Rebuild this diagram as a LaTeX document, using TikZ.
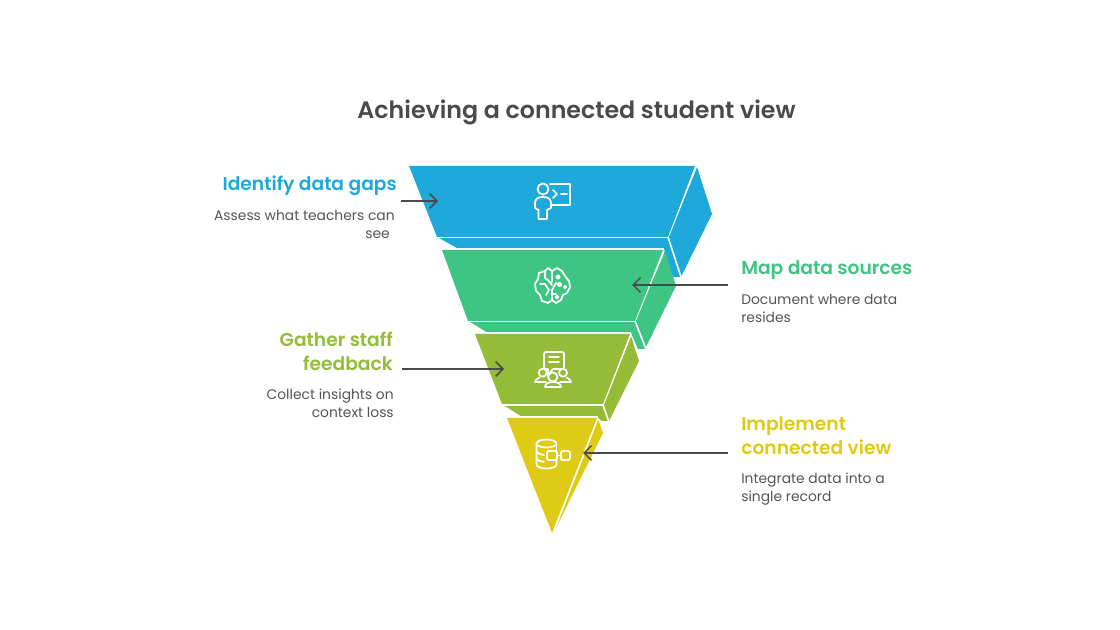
\documentclass[tikz,border=0pt]{standalone}
\usepackage{fontspec}
\setmainfont{Poppins}[BoldFont={Poppins SemiBold}]
\usetikzlibrary{arrows.meta}
\definecolor{cblue}{HTML}{1FA9DA}
\definecolor{cgreen}{HTML}{3FC583}
\definecolor{colive}{HTML}{94BC39}
\definecolor{cyellow}{HTML}{DFCB15}
\definecolor{cgray}{HTML}{4A4A4A}
\definecolor{cbody}{HTML}{555555}
\tikzset{
  edge/.style={draw=white,line width=1.2pt,line join=round},
  icon/.style={draw=white,line width=1.3pt,line join=round,line cap=round},
  conn/.style={draw=cgray,line width=1.15pt,-{Straight Barb[length=5.5pt,width=11pt,line width=1.15pt]}},
  title/.style={font=\fontsize{17.8pt}{22pt}\selectfont\bfseries,text=cgray,inner sep=0},
  head/.style={font=\fontsize{14pt}{18pt}\selectfont\bfseries,inner sep=0},
  bodyr/.style={font=\fontsize{10.4pt}{13.5pt}\selectfont,text=cbody,inner sep=0,align=right},
  bodyl/.style={font=\fontsize{10.4pt}{13.5pt}\selectfont,text=cbody,inner sep=0,align=left},
}
\begin{document}
\begin{tikzpicture}[x=0.75pt,y=-0.75pt]
\useasboundingbox (0,0) rectangle (1120,630);
\fill[white] (0,0) rectangle (1120,630);
% blue layer
\fill[cblue] (697,167) -- (712,214) -- (681,277) -- (673,277) -- (663,249) -- (457,248) -- (439,238) -- (668,238) -- cycle;
\draw[edge] (696,167) -- (668,237) -- (681,277);
\draw[edge] (437,237.5) -- (668,237.5);
\fill[cblue] (409,166) -- (695,166) -- (668,237) -- (437,237) -- cycle;
% green layer
\fill[cgreen] (665,251) -- (676,286) -- (645,349) -- (638,349) -- (631,333) -- (488,333) -- (470,322) -- (635,322) -- cycle;
\draw[edge] (664,250) -- (635,321) -- (646,349);
\draw[edge] (468,321.5) -- (635,321.5);
\draw[edge] (442,249.2) -- (664,249.2);
\fill[cgreen] (442,250) -- (663,250) -- (635,321) -- (468,321) -- cycle;
% olive layer
\fill[colive] (631,336) -- (639,361) -- (609,421) -- (602,421) -- (597,417) -- (522,417) -- (505,406) -- (603,406) -- cycle;
\draw[edge] (631,334) -- (603,405) -- (609,422);
\draw[edge] (502,405) -- (603,405);
\draw[edge] (475,333.2) -- (631,333.2);
\fill[colive] (475,334) -- (630,334) -- (603,404) -- (502,404) -- cycle;
% yellow layer
\fill[cyellow] (598,419) -- (603,433) -- (556,528) -- cycle;
\draw[edge] (598,418) -- (554,530);
\draw[edge] (507,417.2) -- (598,417.2);
\fill[cyellow] (507,418) -- (597,418) -- (552,533) -- cycle;
% icon 1: teacher
\draw[icon] (543,189) circle (5.5);
\draw[icon] (550,184) -- (570,184) -- (570,205) -- (552,205);
\draw[icon] (553,190) -- (557,194) -- (553,198);
\draw[icon] (561,194) -- (567,194);
\draw[icon] (538.5,219) -- (547,219) -- (547,210) -- (551,208) -- (551,203) .. controls (551,199) and (548,197) .. (543,197) .. controls (538,197) and (535,199) .. (535,203) -- (535,208) -- (538.5,210) -- cycle;
% icon 2: brain
\draw[icon] (552,271) -- (557,268) -- (562,271) -- (565,276) -- (569,281) -- (570,287) -- (567,293) -- (563,295) -- (561,300) -- (556,303) -- (552,300) -- (548,303) -- (542,301) -- (540,295) -- (536,291) -- (535,284) -- (538,279) -- (539,273) -- (545,271) -- (548,268) -- cycle;
\draw[icon] (552,271) -- (552,282) (552,290) -- (552,300);
\draw[icon] (545,271) -- (545,278) -- (549,281) -- (552,285);
\draw[icon] (540,284) -- (545,284) -- (549,290) -- (546,295);
\draw[icon] (552,290) -- (556,283) -- (558,284);
\draw[icon] (552,294) -- (556,294);
\draw[icon] (558,277) circle (1.8);
\draw[icon] (559.5,284.5) circle (1.8);
\draw[icon] (565,287) circle (1.2);
\draw[icon] (557,297) circle (1.5);
% icon 3: team and speech
\draw[icon] (546,352) -- (562,352) .. controls (563.5,352) and (564,353) .. (564,354) -- (564,367) .. controls (564,368.5) and (563,369) .. (562,369) -- (553,369) -- (548,375) -- (548,369) -- (546,369) .. controls (545,369) and (544,368.5) .. (544,367) -- (544,354) .. controls (544,353) and (545,352) .. cycle;
\draw[icon] (549,357) -- (559,357);
\draw[icon] (549,362) -- (559,362);
\draw[icon] (542.7,372.7) circle (4);
\draw[icon] (563,372.7) circle (4);
\draw[icon] (552.8,377) circle (4.6);
\draw[icon] (546,382) -- (535,382) .. controls (535.5,380) and (537,378.5) .. (539.5,377.5);
\draw[icon] (560,382) -- (571,382) .. controls (570.5,380) and (569,378.5) .. (566.5,377.5);
\draw[icon] (545,387) .. controls (545,384) and (548,382) .. (553,382) .. controls (558,382) and (561,384) .. (561,387) -- cycle;
% icon 4: database
\draw[icon] (546.5,443.5) ellipse (10 and 4);
\draw[icon] (536.5,443.5) -- (536.5,464) .. controls (536.5,467) and (541,468.5) .. (546.5,468.5) .. controls (551,468.5) and (555,467.5) .. (556.5,465) -- (556.5,460);
\draw[icon] (556.5,443.5) -- (556.5,451);
\draw[icon] (536.5,451) .. controls (537,453) and (540,454.5) .. (544,455);
\draw[icon] (536.5,458) .. controls (537,460) and (540,461.5) .. (544,462);
\draw[icon,rounded corners=1pt] (547,451) rectangle (557,460);
\draw[icon,rounded corners=1pt] (561,451) rectangle (570,460);
\draw[icon] (557,455.5) -- (561,455.5);
% title
\node[title,anchor=center] (ttl) at (576.5,112.5) {Achieving a connected student view};
% labels
\node[head,text=cblue,anchor=east] (h1) at (397,186) {Identify data gaps};
\node[bodyr,anchor=north east] (b1) at (395,209.5) {Assess what teachers can\\see\hspace{3.75pt}\null};
\node[head,text=cgreen,anchor=west] (h2) at (741,270) {Map data sources};
\node[bodyl,anchor=north west] (b2) at (741,293.5) {Document where data\\resides};
\node[head,text=colive,anchor=east,align=right] (h3) at (393,351) {Gather staff\\feedback};
\node[bodyr,anchor=north east] (b3) at (394,389) {Collect insights on\\context loss};
\node[head,text=cyellow,anchor=west,align=left] (h4) at (741,436) {Implement\\connected view};
\node[bodyl,anchor=north west] (b4) at (741,473) {Integrate data into a\\single record};
% connectors
\coordinate (a1s) at (401,201); \coordinate (a1e) at (438,201);
\coordinate (a2s) at (728,285); \coordinate (a2e) at (632,285);
\coordinate (a3s) at (402,369); \coordinate (a3e) at (504,369);
\coordinate (a4s) at (728,453); \coordinate (a4e) at (583,453);
\draw[conn] (a1s) -- (a1e);
\draw[conn] (a2s) -- (a2e);
\draw[conn] (a3s) -- (a3e);
\draw[conn] (a4s) -- (a4e);
\end{tikzpicture}
\end{document}
